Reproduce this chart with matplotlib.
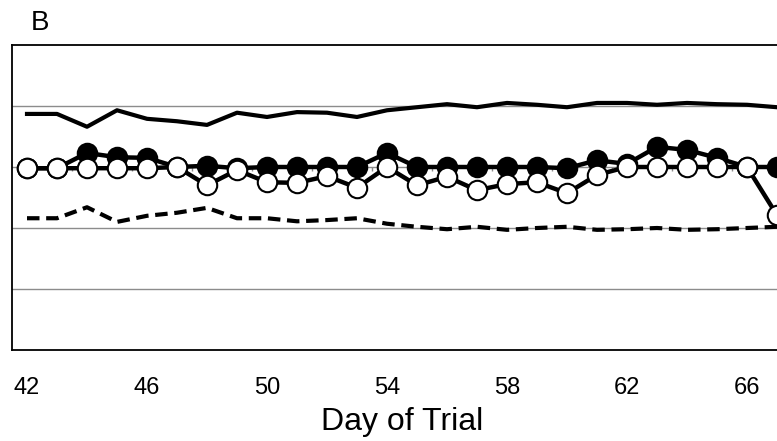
import numpy as np
import matplotlib.pyplot as plt

plt.rcParams['font.family'] = ['Liberation Sans', 'DejaVu Sans']

days = np.arange(42, 68)

# solid line, no markers
solid_line = [3.87, 3.87, 3.66, 3.93, 3.79, 3.75, 3.69, 3.89, 3.82, 3.90,
              3.89, 3.82, 3.93, 3.98, 4.03, 3.98, 4.05, 4.02, 3.98, 4.05,
              4.05, 4.02, 4.05, 4.03, 4.02, 3.98]
# dashed line
dashed_line = [2.16, 2.16, 2.34, 2.10, 2.20, 2.25, 2.33, 2.16, 2.16, 2.11,
               2.13, 2.16, 2.07, 2.02, 1.98, 2.02, 1.97, 2.00, 2.02, 1.97,
               1.98, 2.00, 1.97, 1.98, 2.00, 2.02]
# filled circles
filled_pts = [2.98, 2.98, 3.23, 3.16, 3.15, 3.00, 3.02, 2.98, 3.00, 3.00,
              3.00, 3.00, 3.23, 3.00, 3.00, 3.00, 3.00, 3.00, 2.98, 3.11,
              3.05, 3.33, 3.28, 3.15, 3.00, 3.00]
# open circles
open_pts = [2.98, 2.98, 2.98, 2.98, 2.98, 3.00, 2.70, 2.95, 2.75, 2.74,
            2.85, 2.66, 3.00, 2.70, 2.84, 2.62, 2.72, 2.75, 2.57, 2.87,
            3.00, 3.00, 3.00, 3.00, 3.00, 2.21]

xticks = [42, 46, 50, 54, 58, 62, 66]

fig = plt.figure(figsize=(7.77, 4.41), dpi=100)
ax = fig.add_axes([12 / 777, 1 - 350 / 441, 780 / 777, 305 / 441])

ax.set_xlim(41.5, 67.5)
ax.set_ylim(0, 5)

# gridlines
for g in [1, 2, 3, 4]:
    ax.axhline(g, color='#8c8c8c', lw=1.0, zorder=1)
# small ticks on the middle axis
ax.vlines(np.arange(43.5, 67, 2), 2.93, 3.0, color='#8c8c8c', lw=1.0, zorder=1)

ax.plot(days, solid_line, color='black', lw=3, zorder=3)
ax.plot(days, dashed_line, color='black', lw=3, dashes=(3, 1.6), zorder=3)
ax.plot(days, filled_pts, color='black', lw=3.2, marker='o', ms=14,
        mfc='black', mec='black', mew=1.5, zorder=4)
ax.plot(days, open_pts, color='black', lw=3.2, marker='o', ms=14,
        mfc='white', mec='black', mew=1.5, zorder=5)

ax.set_xticks(xticks)
ax.set_xticklabels([str(t) for t in xticks], fontsize=17)
ax.tick_params(axis='x', length=0, pad=19.5)
ax.set_yticks([])
ax.set_xlabel('Day of Trial', fontsize=23, labelpad=6)

for s in ['left', 'top', 'bottom']:
    ax.spines[s].set_linewidth(1.3)
ax.spines['right'].set_visible(False)

fig.text(40 / 777, 1 - 23 / 441, 'B', fontsize=20, ha='center', va='center')

fig.savefig('out.png', dpi=100)
